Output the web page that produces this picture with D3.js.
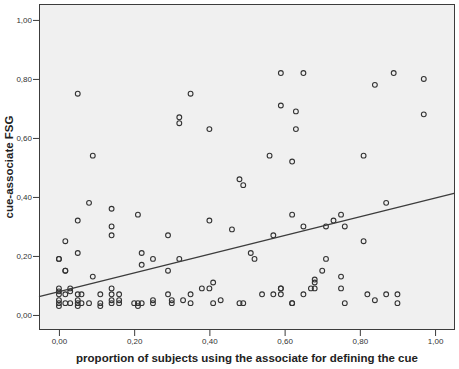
<!DOCTYPE html>
<html>
<head>
<meta charset="utf-8">
<script src="https://cdn.jsdelivr.net/npm/d3@7"></script>
<style>
  html, body { margin: 0; padding: 0; background: #fff; }
  svg { display: block; font-family: "Liberation Sans", Arial, sans-serif; }
</style>
</head>
<body>
<div id="chart"></div>
<script>
// proportion of subjects using the associate (x) vs cue-associate FSG (y)
const propX = [
  0.00, 0.00, 0.00, 0.00, 0.00, 0.00, 0.00, 0.00,
  0.017, 0.017, 0.017, 0.017, 0.017,
  0.03, 0.03, 0.03,
  0.05, 0.05, 0.05, 0.05, 0.05, 0.05, 0.05,
  0.06, 0.06,
  0.08, 0.08,
  0.09, 0.09,
  0.11, 0.11, 0.11,
  0.14, 0.14, 0.14, 0.14, 0.14, 0.14, 0.14,
  0.16, 0.16, 0.16,
  0.20,
  0.21, 0.21, 0.21,
  0.22, 0.22, 0.22,
  0.25, 0.25, 0.25,
  0.29, 0.29, 0.29,
  0.30, 0.30,
  0.32, 0.32, 0.32,
  0.33,
  0.35, 0.35, 0.35,
  0.38,
  0.40, 0.40, 0.40,
  0.41, 0.41,
  0.43,
  0.46,
  0.48, 0.48,
  0.49, 0.49,
  0.51,
  0.52,
  0.54,
  0.56,
  0.57, 0.57,
  0.59, 0.59, 0.59, 0.59, 0.59,
  0.62, 0.62, 0.62, 0.62,
  0.63, 0.63,
  0.65, 0.65, 0.65,
  0.67,
  0.68, 0.68, 0.68,
  0.70,
  0.71, 0.71,
  0.73,
  0.75, 0.75, 0.75,
  0.76, 0.76,
  0.81, 0.81,
  0.82,
  0.84, 0.84,
  0.87, 0.87,
  0.89,
  0.90, 0.90,
  0.97, 0.97
];
const fsgY = [
  0.19, 0.19, 0.09, 0.08, 0.07, 0.05, 0.04, 0.03,
  0.25, 0.15, 0.15, 0.07, 0.04,
  0.09, 0.08, 0.04,
  0.75, 0.32, 0.21, 0.07, 0.05, 0.04, 0.03,
  0.07, 0.04,
  0.38, 0.04,
  0.54, 0.13,
  0.07, 0.04, 0.03,
  0.36, 0.30, 0.27, 0.09, 0.07, 0.05, 0.04,
  0.07, 0.05, 0.04,
  0.04,
  0.34, 0.04, 0.03,
  0.21, 0.17, 0.04,
  0.19, 0.05, 0.04,
  0.27, 0.15, 0.07,
  0.05, 0.04,
  0.67, 0.65, 0.19,
  0.05,
  0.75, 0.07, 0.04,
  0.09,
  0.63, 0.32, 0.09,
  0.11, 0.04,
  0.05,
  0.29,
  0.46, 0.04,
  0.44, 0.04,
  0.21,
  0.19,
  0.07,
  0.54,
  0.27, 0.07,
  0.82, 0.71, 0.09, 0.09, 0.07,
  0.52, 0.34, 0.04, 0.04,
  0.69, 0.63,
  0.82, 0.30, 0.07,
  0.09,
  0.12, 0.11, 0.09,
  0.15,
  0.30, 0.19,
  0.32,
  0.34, 0.13, 0.09,
  0.30, 0.04,
  0.54, 0.25,
  0.07,
  0.78, 0.05,
  0.38, 0.07,
  0.82,
  0.07, 0.04,
  0.80, 0.68
];

// fit line
const fitIntercept = 0.079;
const fitSlope = 0.317;

const tickValues = [0, 0.2, 0.4, 0.6, 0.8, 1.0];
const tickLabels = ["0,00", "0,20", "0,40", "0,60", "0,80", "1,00"];

const width = 459, height = 369;
const m = { t: 4, r: 4, b: 39, l: 39 };

const svg = d3.select("#chart")
  .append("svg")
  .attr("width", width)
  .attr("height", height);

const x = d3.scaleLinear()
  .domain([-0.053, 1.053])
  .range([m.l, width - m.r]);

const y = d3.scaleLinear()
  .domain([-0.051, 1.054])
  .range([height - m.b, m.t]);

// plot background + frame
svg.append("rect")
  .attr("x", m.l + 0.5)
  .attr("y", m.t + 0.5)
  .attr("width", width - m.r - m.l - 1)
  .attr("height", height - m.b - m.t - 1)
  .attr("fill", "#f0f0f0")
  .attr("stroke", "#3c3c3c")
  .attr("stroke-width", 1);

// axes
const yAxis = svg.append("g")
  .attr("transform", `translate(${m.l},0)`)
  .call(d3.axisLeft(y).tickValues(tickValues).tickSize(6)
    .tickFormat((d, i) => tickLabels[i]));

const xAxis = svg.append("g")
  .attr("transform", `translate(0,${height - m.b})`)
  .call(d3.axisBottom(x).tickValues(tickValues).tickSize(6)
    .tickFormat((d, i) => tickLabels[i]));

[xAxis, yAxis].forEach(g => {
  g.select(".domain").remove();
  g.selectAll("line").attr("stroke", "#3c3c3c");
  g.selectAll("text")
    .attr("fill", "#333")
    .attr("font-size", "8px")
    .attr("font-family", "Liberation Sans, Arial, sans-serif");
});
yAxis.selectAll("text").attr("x", -7);
xAxis.selectAll("text").attr("y", 8);

// points
svg.append("g")
  .selectAll("circle")
  .data(propX.map((v, i) => [v, fsgY[i]]))
  .enter()
  .append("circle")
  .attr("cx", d => x(d[0]))
  .attr("cy", d => y(d[1]))
  .attr("r", 2.4)
  .attr("fill", "none")
  .attr("stroke", "#333")
  .attr("stroke-width", 1.1);

// fit line across the full x range
const xd = x.domain();
svg.append("line")
  .attr("x1", x(xd[0]))
  .attr("y1", y(fitIntercept + fitSlope * xd[0]))
  .attr("x2", x(xd[1]))
  .attr("y2", y(fitIntercept + fitSlope * xd[1]))
  .attr("stroke", "#3c3c3c")
  .attr("stroke-width", 1.3);

// axis titles
svg.append("text")
  .attr("x", (m.l + width - m.r) / 2)
  .attr("y", 362)
  .attr("text-anchor", "middle")
  .attr("font-size", "11.5px")
  .attr("font-weight", "bold")
  .attr("fill", "#222")
  .text("proportion of subjects using the associate for defining the cue");

svg.append("text")
  .attr("transform", `translate(13,${(m.t + height - m.b) / 2}) rotate(-90)`)
  .attr("text-anchor", "middle")
  .attr("font-size", "11.5px")
  .attr("font-weight", "bold")
  .attr("fill", "#222")
  .text("cue-associate FSG");
</script>
</body>
</html>
